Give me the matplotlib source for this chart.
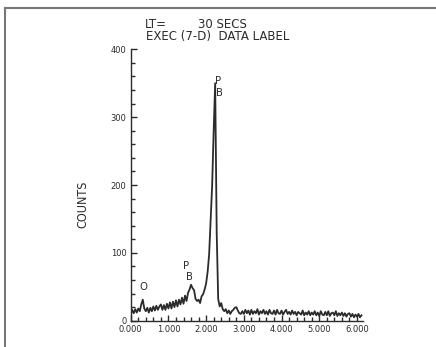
import numpy as np
import matplotlib
matplotlib.use('Agg')
import matplotlib.pyplot as plt
from matplotlib.lines import Line2D
from matplotlib.ticker import MultipleLocator, FormatStrFormatter

# energy axis (keV) in 0.04 steps, counts
energy_step = 0.04
counts = [
    9, 16, 11, 17, 12, 18, 14, 24, 31, 18,
    14, 19, 12, 19, 14, 21, 15, 22, 16, 21,
    24, 16, 23, 16, 25, 18, 27, 18, 28, 20,
    30, 21, 31, 24, 34, 25, 37, 29, 41, 46,
    53, 48, 45, 32, 29, 31, 26, 36, 39, 46,
    55, 72, 98, 150, 200, 280, 350, 130, 32, 21,
    26, 17, 14, 17, 11, 15, 10, 14, 16, 19,
    20, 15, 11, 10, 14, 10, 16, 11, 15, 9,
    16, 10, 14, 11, 17, 9, 14, 11, 16, 10,
    14, 9, 16, 11, 10, 15, 9, 16, 11, 10,
    15, 9, 13, 16, 10, 13, 9, 15, 10, 13,
    8, 13, 11, 9, 15, 8, 12, 9, 14, 8,
    12, 9, 14, 8, 12, 7, 14, 9, 8, 13,
    8, 14, 7, 11, 12, 8, 14, 7, 11, 8,
    12, 7, 11, 6, 10, 11, 6, 10, 5, 9,
    6, 10, 5, 8,
]
energy = np.arange(len(counts)) * energy_step

# peak labels: (text, x, y)
peak_labels = [
    ('O', 0.33, 50),
    ('P', 1.48, 80),
    ('B', 1.57, 65),
    ('P', 2.32, 354),
    ('B', 2.35, 335),
]

ink = '#2b2b2b'
cond = dict(family='DejaVu Sans', fontstretch='condensed', color=ink)
plain = dict(family='DejaVu Sans', color=ink)

fig = plt.figure(figsize=(4.36, 3.47), dpi=100)
ax = fig.add_axes([0.2998, 0.0758, 0.5319, 0.782])

ax.plot(energy, counts, color=ink, lw=1.3)

ax.set_xlim(0, 6.15)
ax.set_ylim(0, 400)
ax.spines['top'].set_visible(False)
ax.spines['right'].set_visible(False)
for s in ('left', 'bottom'):
    ax.spines[s].set_color(ink)
    ax.spines[s].set_linewidth(1.0)

ax.xaxis.set_major_locator(MultipleLocator(1.0))
ax.xaxis.set_minor_locator(MultipleLocator(0.2))
ax.xaxis.set_major_formatter(FormatStrFormatter('%.3f'))
ax.yaxis.set_major_locator(MultipleLocator(100))
ax.yaxis.set_minor_locator(MultipleLocator(20))
ax.tick_params(which='both', direction='in', colors=ink, width=1.0)
ax.tick_params(which='major', length=4, labelsize=6, pad=3)
ax.tick_params(which='minor', length=3)

for text, x, y in peak_labels:
    ax.text(x, y, text, ha='center', va='center', fontsize=8, **cond)

fig.text(145 / 436, 0.930, 'LT=', fontsize=8.5, va='center', ha='left', **plain)
fig.text(198 / 436, 0.930, '30 SECS', fontsize=8.5, va='center', ha='left', **plain)
fig.text(146 / 436, 0.894, 'EXEC (7-D)  DATA LABEL', fontsize=8.5,
         va='center', ha='left', **plain)
fig.text(0.19, 0.41, 'COUNTS', rotation=90, fontsize=9,
         va='center', ha='center', **cond)

# scanned page frame (top and left edges)
fig.add_artist(Line2D([0.0115, 1.0], [0.977, 0.977], color='#777777', lw=1.5))
fig.add_artist(Line2D([0.0115, 0.0115], [0.0, 0.977], color='#777777', lw=1.5))

fig.savefig('out.png', dpi=100)
